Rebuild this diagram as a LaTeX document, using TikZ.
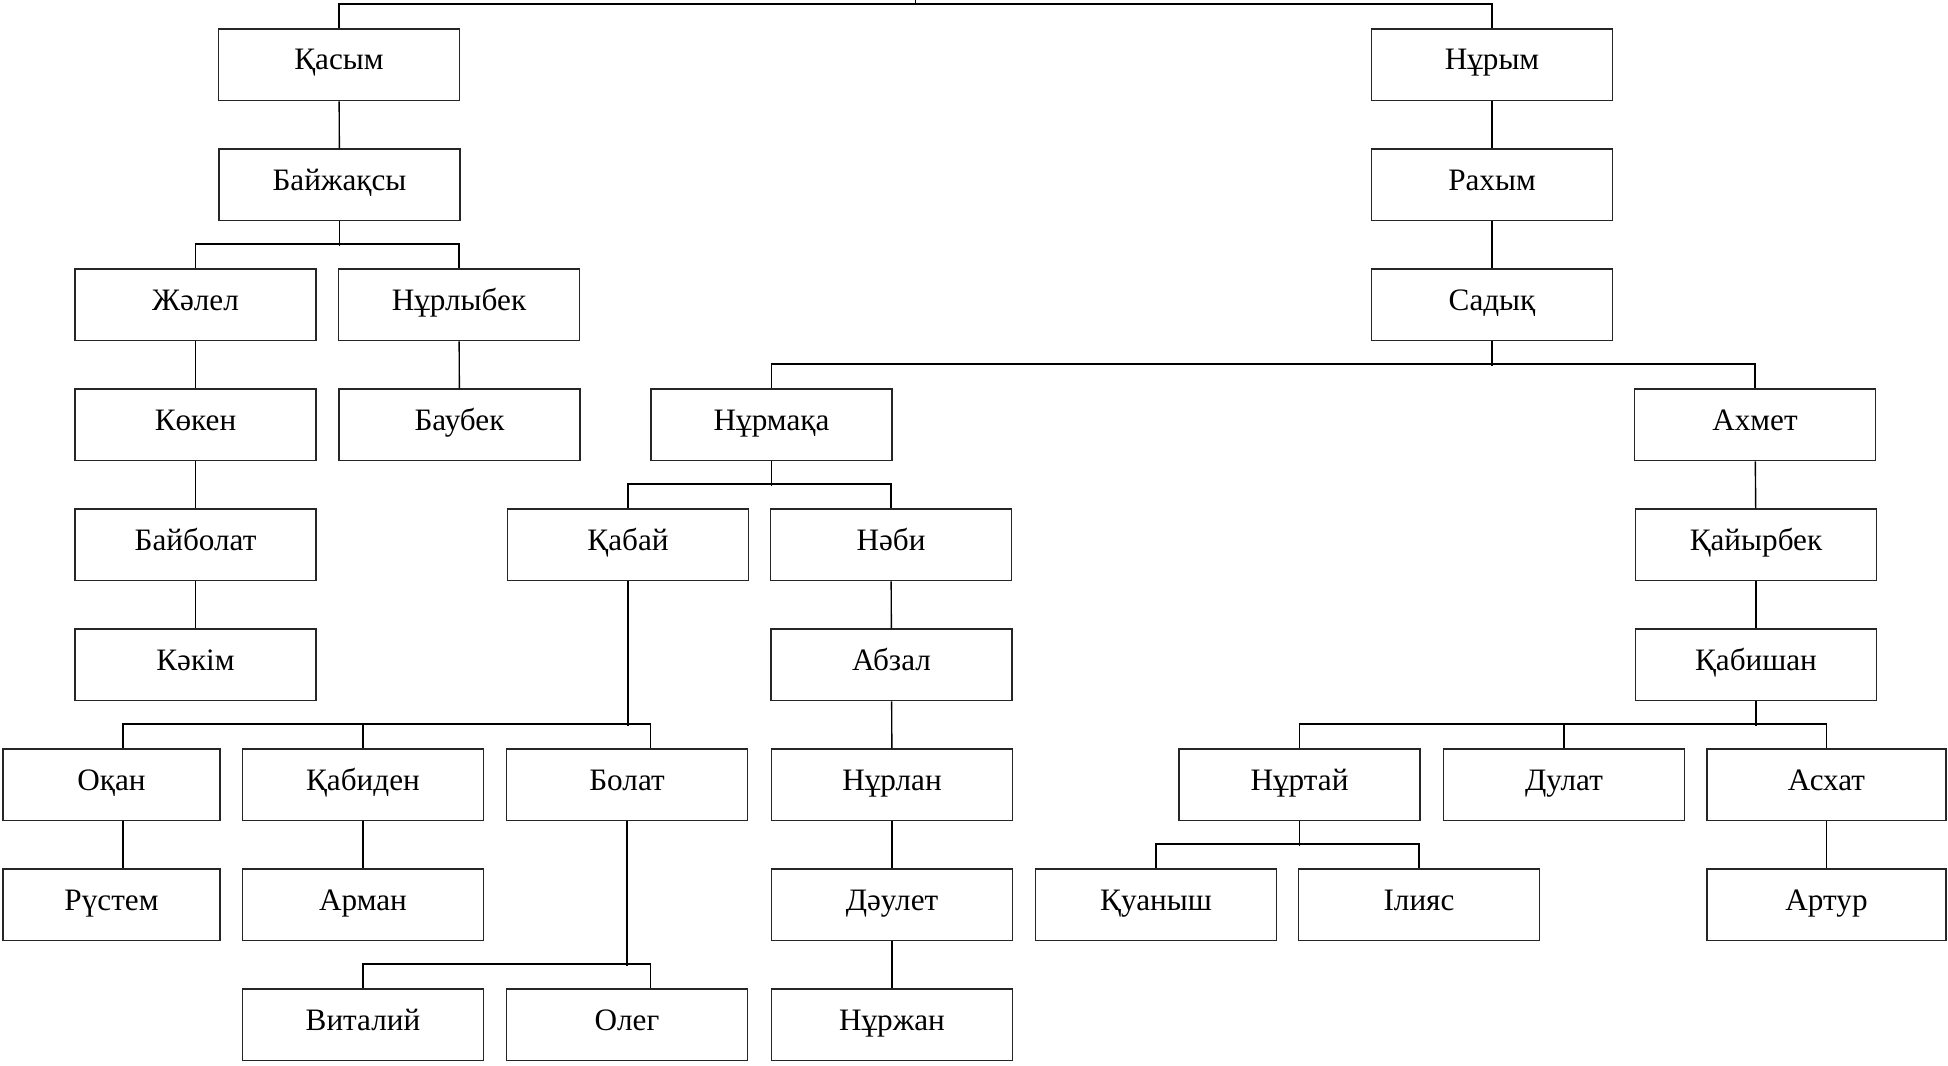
\documentclass[tikz,border=0pt]{standalone}
\usepackage{fontspec}
\setmainfont{Liberation Serif}
\begin{document}
\begin{tikzpicture}[x=0.5pt,y=-0.5pt,
  pbox/.style={draw=black!85, line width=0.7pt, inner sep=0pt, minimum width=120.5pt,
    minimum height=35.85pt, text height=20.5pt, text depth=15.35pt,
    font=\fontsize{15.6pt}{18pt}\selectfont},
  narrowbox/.style={minimum width=108.5pt},
  edgebox/.style={minimum width=119.5pt},
  conn/.style={draw=black, line width=0.7pt},
  bus/.style={draw=black, line width=0.9pt}]
\useasboundingbox (0,0) rectangle (1948,1065);
% rows
\def\ra{64.85}\def\rb{184.85}\def\rc{304.85}\def\rd{424.85}\def\re{544.85}
\def\rf{664.85}\def\rg{784.85}\def\rh{904.85}\def\ri{1024.85}
% left branch
\node[pbox] (kasym) at (339,\ra) {Қасым};
\node[pbox] (baizh) at (339.5,\rb) {Байжақсы};
\node[pbox] (zhalel) at (195.5,\rc) {Жәлел};
\node[pbox] (nurlybek) at (459,\rc) {Нұрлыбек};
\node[pbox] (koken) at (195.5,\rd) {Көкен};
\node[pbox] (baubek) at (459.5,\rd) {Баубек};
\node[pbox] (baibolat) at (195.5,\re) {Байболат};
\node[pbox] (kakim) at (195.5,\rf) {Кәкім};
% right branch
\node[pbox] (nurym) at (1492,\ra) {Нұрым};
\node[pbox] (rakhym) at (1492,\rb) {Рахым};
\node[pbox] (sadyk) at (1492,\rc) {Садық};
\node[pbox] (nurmaka) at (771.5,\rd) {Нұрмақа};
\node[pbox] (ahmet) at (1755,\rd) {Ахмет};
\node[pbox] (kabai) at (628,\re) {Қабай};
\node[pbox] (nabi) at (891,\re) {Нәби};
\node[pbox] (kaiyrbek) at (1756,\re) {Қайырбек};
\node[pbox] (abzal) at (891.5,\rf) {Абзал};
\node[pbox] (kabishan) at (1756,\rf) {Қабишан};
\node[pbox,narrowbox] (okan) at (111.5,\rg) {Оқан};
\node[pbox] (kabiden) at (363,\rg) {Қабиден};
\node[pbox] (bolat) at (627,\rg) {Болат};
\node[pbox] (nurlan) at (892,\rg) {Нұрлан};
\node[pbox] (nurtai) at (1299.5,\rg) {Нұртай};
\node[pbox] (dulat) at (1564,\rg) {Дулат};
\node[pbox,edgebox] (askhat) at (1826.5,\rg) {Асхат};
\node[pbox,narrowbox] (rustem) at (111.5,\rh) {Рүстем};
\node[pbox] (arman) at (363,\rh) {Арман};
\node[pbox] (daulet) at (892,\rh) {Дәулет};
\node[pbox] (kuanysh) at (1156,\rh) {Қуаныш};
\node[pbox] (iliyas) at (1419,\rh) {Ілияс};
\node[pbox,edgebox] (artur) at (1826.5,\rh) {Артур};
\node[pbox] (vitaliy) at (363,\ri) {Виталий};
\node[pbox] (oleg) at (627,\ri) {Олег};
\node[pbox] (nurzhan) at (892,\ri) {Нұржан};
% top
\coordinate (root) at (915.7,0);
\draw[conn] (root) -- ++(0,4.7);
\draw[bus] (kasym.north) -- ++(0,-24.3) -| (nurym.north);
% Kasym line
\draw[conn] (kasym) -- (baizh);
\draw[conn] (baizh.south) -- ++(0,24.3);
\draw[bus] (zhalel.north) -- ++(0,-24) -| (nurlybek.north);
\draw[conn] (zhalel) -- (koken);
\draw[conn] (koken) -- (baibolat);
\draw[conn] (baibolat) -- (kakim);
\draw[conn] (nurlybek) -- (baubek);
% Nurym line
\draw[conn] (nurym) -- (rakhym);
\draw[conn] (rakhym) -- (sadyk);
\draw[conn] (sadyk.south) -- ++(0,24.3);
\draw[bus] (nurmaka.north) -- ++(0,-24.3) -| (ahmet.north);
\draw[conn] (nurmaka.south) -- ++(0,24.3);
\draw[bus] (kabai.north) -- ++(0,-24.3) -| (nabi.north);
\draw[conn] (kabai.south) -- ++(0,144.3);
\draw[bus] ([xshift=5.75pt]okan.north) -- ++(0,-24.3) -| ([xshift=11.75pt]bolat.north);
\draw[conn] (kabiden.north) -- ++(0,-24.3);
\draw[conn] ([xshift=5.75pt]okan.south) -- ([xshift=5.75pt]rustem.north);
\draw[conn] (kabiden) -- (arman);
\draw[conn] (bolat.south) -- ++(0,144.3);
\draw[bus] (vitaliy.north) -- ++(0,-24.3) -| ([xshift=11.75pt]oleg.north);
\draw[conn] (nabi) -- (abzal);
\draw[conn] (abzal) -- (nurlan);
\draw[conn] (nurlan) -- (daulet);
\draw[conn] (daulet) -- (nurzhan);
\draw[conn] (ahmet) -- (kaiyrbek);
\draw[conn] (kaiyrbek) -- (kabishan);
\draw[conn] (kabishan.south) -- ++(0,24.3);
\draw[bus] (nurtai.north) -- ++(0,-24.3) -| (askhat.north);
\draw[conn] (dulat.north) -- ++(0,-24.3);
\draw[conn] (nurtai.south) -- ++(0,24.3);
\draw[bus] (kuanysh.north) -- ++(0,-24.3) -| (iliyas.north);
\draw[conn] (askhat) -- (artur);
\end{tikzpicture}
\end{document}
